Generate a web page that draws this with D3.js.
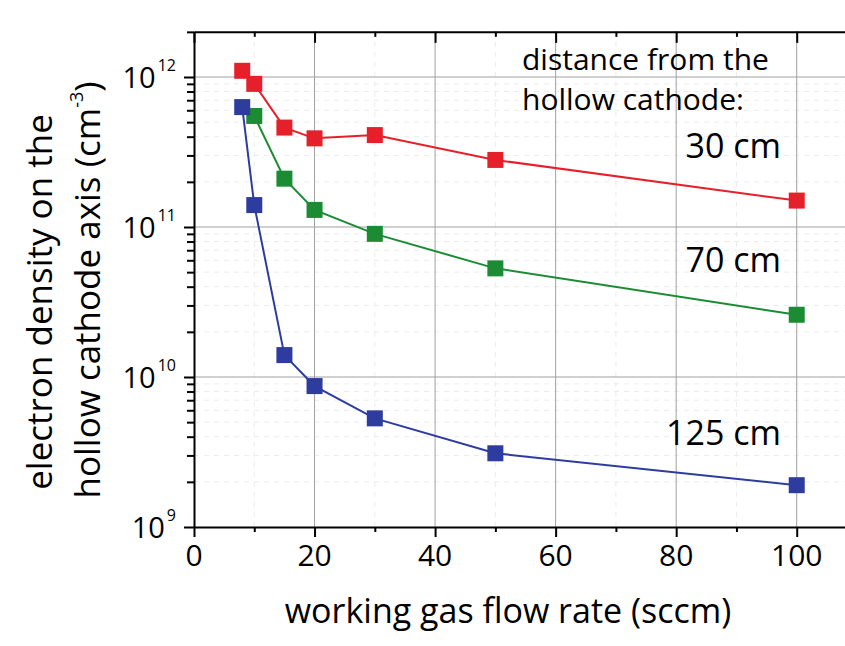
<!DOCTYPE html>
<html>
<head>
<meta charset="utf-8">
<script src="https://cdn.jsdelivr.net/npm/d3@7"></script>
<style>
  body { margin: 0; background: #fff; }
  svg { display: block; font-family: "Open Sans", sans-serif; }
  .grid-major { stroke: #a0a0a0; stroke-width: 1; }
  .grid-minor { stroke: #ececec; stroke-width: 1; stroke-dasharray: 5,5; }
  .axis path, .axis line { stroke: #000; }
  .axis path { stroke-width: 2; }
  .axis line { stroke-width: 2; }
</style>
</head>
<body>
<script>
(function(){

    //data
    var flowRate = [8, 10, 15, 20, 30, 50, 100];
    var flowRateGreen = [10, 15, 20, 30, 50, 100];
    var density30 = [1.1e12, 9.0e11, 4.6e11, 3.9e11, 4.1e11, 2.8e11, 1.5e11];
    var density70 = [5.5e11, 2.1e11, 1.3e11, 9.0e10, 5.3e10, 2.6e10];
    var density125 = [6.3e11, 1.4e11, 1.4e10, 8.7e9, 5.3e9, 3.1e9, 1.9e9];
    var seriesLabels = ["30 cm", "70 cm", "125 cm"];
    var xTicks = [0, 20, 40, 60, 80, 100];
    var yExponents = [9, 10, 11, 12];

    var width = 845,
        height = 646;

    var svg = d3.select("body")
        .append("svg")
        .attr("width", width)
        .attr("height", height);

    //scales (frame runs past the right edge of the picture)
    var x = d3.scaleLinear()
        .domain([0, 110])
        .range([194, 857]);

    var y = d3.scaleLog()
        .domain([1e9, 2e12])
        .range([527, 527 - 150 * Math.log10(2000)]);

    //minor tick values
    var yMinor = [];
    [1e9, 1e10, 1e11, 1e12].forEach(function(d){
        for (var k = 2; k <= 9; k++){
            if (d * k <= 2e12) yMinor.push(d * k);
        }
    });
    var xMinor = [10, 30, 50, 70, 90, 110];

    //grid lines
    svg.selectAll(".grid-minor-y")
        .data(yMinor)
        .enter()
        .append("line")
        .attr("class", "grid-minor")
        .attr("x1", x(0))
        .attr("x2", width)
        .attr("y1", function(d){ return y(d); })
        .attr("y2", function(d){ return y(d); });

    svg.selectAll(".grid-minor-x")
        .data(xMinor)
        .enter()
        .append("line")
        .attr("class", "grid-minor")
        .attr("x1", function(d){ return x(d); })
        .attr("x2", function(d){ return x(d); })
        .attr("y1", y(2e12))
        .attr("y2", y(1e9));

    svg.selectAll(".grid-major-y")
        .data(yExponents.slice(1))
        .enter()
        .append("line")
        .attr("class", "grid-major")
        .attr("x1", x(0))
        .attr("x2", width)
        .attr("y1", function(d){ return y(Math.pow(10, d)); })
        .attr("y2", function(d){ return y(Math.pow(10, d)); });

    svg.selectAll(".grid-major-x")
        .data(xTicks.slice(1))
        .enter()
        .append("line")
        .attr("class", "grid-major")
        .attr("x1", function(d){ return x(d); })
        .attr("x2", function(d){ return x(d); })
        .attr("y1", y(2e12))
        .attr("y2", y(1e9));

    //bottom axis, ticks outward
    svg.append("g")
        .attr("class", "axis")
        .attr("transform", "translate(0," + y(1e9) + ")")
        .call(d3.axisBottom(x).tickValues(xTicks).tickSize(10).tickSizeOuter(0).tickFormat(""));
    svg.append("g")
        .attr("class", "axis")
        .attr("transform", "translate(0," + y(1e9) + ")")
        .call(d3.axisBottom(x).tickValues(xMinor).tickSize(5).tickSizeOuter(0).tickFormat(""))
        .select(".domain").remove();

    //top axis, ticks inward
    svg.append("g")
        .attr("class", "axis")
        .attr("transform", "translate(0," + y(2e12) + ")")
        .call(d3.axisBottom(x).tickValues(xTicks).tickSize(11).tickSizeOuter(0).tickFormat(""));
    svg.append("g")
        .attr("class", "axis")
        .attr("transform", "translate(0," + y(2e12) + ")")
        .call(d3.axisBottom(x).tickValues(xMinor).tickSize(5).tickSizeOuter(0).tickFormat(""))
        .select(".domain").remove();

    //left axis, ticks outward
    svg.append("g")
        .attr("class", "axis")
        .attr("transform", "translate(" + x(0) + ",0)")
        .call(d3.axisLeft(y).tickValues(yExponents.map(function(e){ return Math.pow(10, e); }))
            .tickSize(10).tickSizeOuter(0).tickFormat(""));
    svg.append("g")
        .attr("class", "axis")
        .attr("transform", "translate(" + x(0) + ",0)")
        .call(d3.axisLeft(y).tickValues(yMinor).tickSize(7).tickSizeOuter(0).tickFormat(""))
        .select(".domain").remove();

    //x tick labels
    svg.selectAll(".xlabel")
        .data(xTicks)
        .enter()
        .append("text")
        .attr("x", function(d){ return x(d); })
        .attr("y", 566)
        .attr("text-anchor", "middle")
        .style("font-size", "30px")
        .text(function(d){ return d; });

    //y tick labels with superscript exponents
    var yl = svg.selectAll(".ylabel")
        .data(yExponents)
        .enter()
        .append("text")
        .attr("x", 176)
        .attr("y", function(d){ return y(Math.pow(10, d)) + 11; })
        .attr("text-anchor", "end")
        .style("font-size", "29px");
    yl.append("tspan").text("10");
    yl.append("tspan")
        .attr("dx", 2)
        .attr("dy", -17)
        .style("font-size", "16px")
        .text(function(d){ return d; });

    //series
    var series = [
        {xs: flowRate, ys: density30, color: "#e5202b"},
        {xs: flowRateGreen, ys: density70, color: "#1b8c34"},
        {xs: flowRate, ys: density125, color: "#2d3c9e"}
    ];

    var line = d3.line()
        .x(function(d){ return x(d[0]); })
        .y(function(d){ return y(d[1]); });

    series.forEach(function(s){
        var pts = s.xs.map(function(v, i){ return [v, s.ys[i]]; });
        svg.append("path")
            .datum(pts)
            .attr("fill", "none")
            .attr("stroke", s.color)
            .attr("stroke-width", 2)
            .attr("d", line);
        svg.selectAll(null)
            .data(pts)
            .enter()
            .append("rect")
            .attr("x", function(d){ return x(d[0]) - 8; })
            .attr("y", function(d){ return y(d[1]) - 8; })
            .attr("width", 16)
            .attr("height", 16)
            .attr("fill", s.color);
    });

    //legend text
    var legendLines = ["distance from the", "hollow cathode:"];
    svg.selectAll(".legendTitle")
        .data(legendLines)
        .enter()
        .append("text")
        .attr("x", 522)
        .attr("y", function(d, i){ return 70 + i * 40; })
        .style("font-size", "30px")
        .text(function(d){ return d; });

    var labelY = [158, 272, 445];
    svg.selectAll(".seriesLabel")
        .data(seriesLabels)
        .enter()
        .append("text")
        .attr("x", 781)
        .attr("y", function(d, i){ return labelY[i]; })
        .attr("text-anchor", "end")
        .style("font-size", "34px")
        .text(function(d){ return d; });

    //axis titles
    svg.append("text")
        .attr("x", 508)
        .attr("y", 623)
        .attr("text-anchor", "middle")
        .style("font-size", "34px")
        .text("working gas flow rate (sccm)");

    var yTitle = svg.append("g")
        .attr("transform", "translate(0,302) rotate(-90)");
    yTitle.append("text")
        .attr("x", 0)
        .attr("y", 52)
        .attr("text-anchor", "middle")
        .style("font-size", "35px")
        .text("electron density on the");
    var t2 = yTitle.append("text")
        .attr("x", 12)
        .attr("y", 100)
        .attr("text-anchor", "middle")
        .style("font-size", "35px");
    t2.append("tspan").text("hollow cathode axis (cm");
    t2.append("tspan").attr("dy", -17).style("font-size", "18px").text("-3");
    t2.append("tspan").attr("dy", 17).text(")");

})();
</script>
</body>
</html>
